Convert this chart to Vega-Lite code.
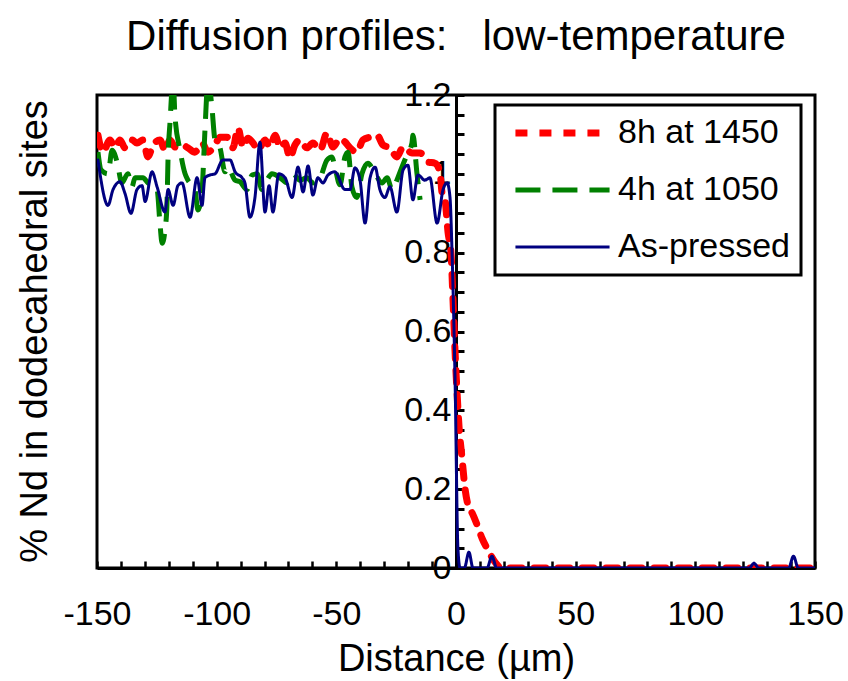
{
  "$schema": "https://vega.github.io/schema/vega-lite/v6.json",
  "width": 718,
  "height": 473,
  "autosize": "none",
  "padding": {"left": 97, "top": 95, "right": 33, "bottom": 113},
  "background": "white",
  "title": {"text": "Diffusion profiles:\u00a0\u00a0 low-temperature", "fontSize": 42, "fontWeight": "normal", "font": "Liberation Sans", "color": "black", "anchor": "middle", "frame": "group", "offset": 19},
  "data": {"values": [
    {"s":"8h at 1450","x":-149.6,"y":1.098},{"s":"8h at 1450","x":-147.5,"y":1.055},{"s":"8h at 1450","x":-144.6,"y":1.086},{"s":"8h at 1450","x":-142.5,"y":1.066},{"s":"8h at 1450","x":-140.4,"y":1.086},{"s":"8h at 1450","x":-138.3,"y":1.066},{"s":"8h at 1450","x":-135.4,"y":1.086},{"s":"8h at 1450","x":-133.3,"y":1.078},{"s":"8h at 1450","x":-130.8,"y":1.086},{"s":"8h at 1450","x":-128.7,"y":1.043},{"s":"8h at 1450","x":-126.6,"y":1.073},{"s":"8h at 1450","x":-123.7,"y":1.086},{"s":"8h at 1450","x":-121.6,"y":1.06},{"s":"8h at 1450","x":-119.5,"y":1.086},{"s":"8h at 1450","x":-117.4,"y":1.068},{"s":"8h at 1450","x":-114.5,"y":1.073},{"s":"8h at 1450","x":-112,"y":1.066},{"s":"8h at 1450","x":-109.1,"y":1.055},{"s":"8h at 1450","x":-106.1,"y":1.078},{"s":"8h at 1450","x":-103.6,"y":1.055},{"s":"8h at 1450","x":-100.7,"y":1.073},{"s":"8h at 1450","x":-98.6,"y":1.093},{"s":"8h at 1450","x":-95.7,"y":1.093},{"s":"8h at 1450","x":-93.2,"y":1.066},{"s":"8h at 1450","x":-91.1,"y":1.116},{"s":"8h at 1450","x":-89,"y":1.068},{"s":"8h at 1450","x":-86.9,"y":1.09},{"s":"8h at 1450","x":-84.8,"y":1.078},{"s":"8h at 1450","x":-82.7,"y":1.06},{"s":"8h at 1450","x":-79.8,"y":1.086},{"s":"8h at 1450","x":-77.7,"y":1.068},{"s":"8h at 1450","x":-75.6,"y":1.098},{"s":"8h at 1450","x":-73.5,"y":1.066},{"s":"8h at 1450","x":-71.4,"y":1.078},{"s":"8h at 1450","x":-69.4,"y":1.04},{"s":"8h at 1450","x":-67.3,"y":1.073},{"s":"8h at 1450","x":-65.2,"y":1.086},{"s":"8h at 1450","x":-62.3,"y":1.066},{"s":"8h at 1450","x":-59.8,"y":1.078},{"s":"8h at 1450","x":-56.8,"y":1.06},{"s":"8h at 1450","x":-53.9,"y":1.104},{"s":"8h at 1450","x":-51.4,"y":1.068},{"s":"8h at 1450","x":-48.5,"y":1.09},{"s":"8h at 1450","x":-46.4,"y":1.081},{"s":"8h at 1450","x":-44.3,"y":1.066},{"s":"8h at 1450","x":-41.4,"y":1.055},{"s":"8h at 1450","x":-38.9,"y":1.086},{"s":"8h at 1450","x":-35.9,"y":1.093},{"s":"8h at 1450","x":-33,"y":1.098},{"s":"8h at 1450","x":-30.5,"y":1.073},{"s":"8h at 1450","x":-27.6,"y":1.066},{"s":"8h at 1450","x":-24.7,"y":1.043},{"s":"8h at 1450","x":-22.1,"y":1.068},{"s":"8h at 1450","x":-18.4,"y":1.053},{"s":"8h at 1450","x":-15,"y":1.053},{"s":"8h at 1450","x":-11.7,"y":1.03},{"s":"8h at 1450","x":-8.8,"y":1.027},{"s":"8h at 1450","x":-6.7,"y":1.005},{"s":"8h at 1450","x":-5.8,"y":0.951},{"s":"8h at 1450","x":-4.6,"y":0.934},{"s":"8h at 1450","x":-3.3,"y":0.85},{"s":"8h at 1450","x":-2.1,"y":0.8},{"s":"8h at 1450","x":-1.25,"y":0.68},{"s":"8h at 1450","x":-0.4,"y":0.55},{"s":"8h at 1450","x":0.4,"y":0.45},{"s":"8h at 1450","x":1.25,"y":0.36},{"s":"8h at 1450","x":2.5,"y":0.28},{"s":"8h at 1450","x":3.8,"y":0.2},{"s":"8h at 1450","x":5,"y":0.16},{"s":"8h at 1450","x":6.7,"y":0.14},{"s":"8h at 1450","x":8.8,"y":0.11},{"s":"8h at 1450","x":10.9,"y":0.075},{"s":"8h at 1450","x":13.4,"y":0.045},{"s":"8h at 1450","x":16.3,"y":0.015},{"s":"8h at 1450","x":19.2,"y":0},{"s":"8h at 1450","x":150,"y":0},
    {"s":"4h at 1050","x":-149.6,"y":1.055},{"s":"4h at 1050","x":-148.3,"y":1.01},{"s":"4h at 1050","x":-145.4,"y":1.0},{"s":"4h at 1050","x":-143.7,"y":1.06},{"s":"4h at 1050","x":-141.6,"y":1.03},{"s":"4h at 1050","x":-139.6,"y":0.977},{"s":"4h at 1050","x":-137.1,"y":1.0},{"s":"4h at 1050","x":-135.4,"y":0.967},{"s":"4h at 1050","x":-134.1,"y":0.99},{"s":"4h at 1050","x":-130.8,"y":0.99},{"s":"4h at 1050","x":-128.7,"y":0.977},{"s":"4h at 1050","x":-124.9,"y":0.96},{"s":"4h at 1050","x":-123.7,"y":0.875},{"s":"4h at 1050","x":-122.8,"y":0.824},{"s":"4h at 1050","x":-121.6,"y":0.857},{"s":"4h at 1050","x":-120.8,"y":0.916},{"s":"4h at 1050","x":-120.3,"y":1.043},{"s":"4h at 1050","x":-119.5,"y":1.13},{"s":"4h at 1050","x":-118.2,"y":1.24},{"s":"4h at 1050","x":-117.4,"y":1.144},{"s":"4h at 1050","x":-115.3,"y":1.06},{"s":"4h at 1050","x":-113.2,"y":1.0},{"s":"4h at 1050","x":-112,"y":0.984},{"s":"4h at 1050","x":-109.1,"y":0.96},{"s":"4h at 1050","x":-107.8,"y":0.908},{"s":"4h at 1050","x":-106.1,"y":0.96},{"s":"4h at 1050","x":-104.9,"y":1.11},{"s":"4h at 1050","x":-103.6,"y":1.24},{"s":"4h at 1050","x":-102,"y":1.17},{"s":"4h at 1050","x":-100.7,"y":1.086},{"s":"4h at 1050","x":-98.6,"y":1.066},{"s":"4h at 1050","x":-96.5,"y":1.005},{"s":"4h at 1050","x":-95.3,"y":1.017},{"s":"4h at 1050","x":-92.3,"y":0.984},{"s":"4h at 1050","x":-90.3,"y":0.98},{"s":"4h at 1050","x":-87.3,"y":0.96},{"s":"4h at 1050","x":-85.2,"y":0.997},{"s":"4h at 1050","x":-83.1,"y":1.0},{"s":"4h at 1050","x":-81.1,"y":0.96},{"s":"4h at 1050","x":-79,"y":0.984},{"s":"4h at 1050","x":-76.9,"y":1.0},{"s":"4h at 1050","x":-73.5,"y":0.99},{"s":"4h at 1050","x":-70.6,"y":0.977},{"s":"4h at 1050","x":-68.1,"y":1.0},{"s":"4h at 1050","x":-65.2,"y":0.984},{"s":"4h at 1050","x":-62.3,"y":0.99},{"s":"4h at 1050","x":-59.8,"y":0.977},{"s":"4h at 1050","x":-56.8,"y":0.99},{"s":"4h at 1050","x":-53.9,"y":1.035},{"s":"4h at 1050","x":-51.8,"y":1.043},{"s":"4h at 1050","x":-50.6,"y":1.017},{"s":"4h at 1050","x":-48.5,"y":0.972},{"s":"4h at 1050","x":-46.4,"y":1.043},{"s":"4h at 1050","x":-45.1,"y":1.055},{"s":"4h at 1050","x":-43.5,"y":0.967},{"s":"4h at 1050","x":-41.4,"y":0.94},{"s":"4h at 1050","x":-39.3,"y":1.0},{"s":"4h at 1050","x":-36.8,"y":1.027},{"s":"4h at 1050","x":-33.8,"y":1.0},{"s":"4h at 1050","x":-30.9,"y":0.977},{"s":"4h at 1050","x":-28.8,"y":0.99},{"s":"4h at 1050","x":-26.7,"y":0.96},{"s":"4h at 1050","x":-24.7,"y":0.984},{"s":"4h at 1050","x":-22.6,"y":1.017},{"s":"4h at 1050","x":-20.5,"y":1.048},{"s":"4h at 1050","x":-18.4,"y":1.078},{"s":"4h at 1050","x":-18,"y":1.098},{"s":"4h at 1050","x":-16.3,"y":1.0},{"s":"4h at 1050","x":-15,"y":0.934},
    {"s":"As-pressed","x":-149.6,"y":1.035},{"s":"As-pressed","x":-145.4,"y":0.92},{"s":"As-pressed","x":-143.3,"y":0.96},{"s":"As-pressed","x":-140.4,"y":0.98},{"s":"As-pressed","x":-138.3,"y":0.95},{"s":"As-pressed","x":-135.8,"y":0.9},{"s":"As-pressed","x":-133.3,"y":0.96},{"s":"As-pressed","x":-131.2,"y":0.97},{"s":"As-pressed","x":-129.9,"y":0.93},{"s":"As-pressed","x":-127,"y":1.005},{"s":"As-pressed","x":-124.9,"y":0.967},{"s":"As-pressed","x":-121.6,"y":0.903},{"s":"As-pressed","x":-120.3,"y":0.96},{"s":"As-pressed","x":-118.2,"y":0.92},{"s":"As-pressed","x":-116.2,"y":0.97},{"s":"As-pressed","x":-114.5,"y":0.977},{"s":"As-pressed","x":-111.1,"y":0.89},{"s":"As-pressed","x":-108.2,"y":0.99},{"s":"As-pressed","x":-106.1,"y":0.92},{"s":"As-pressed","x":-104.9,"y":0.99},{"s":"As-pressed","x":-102.8,"y":0.997},{"s":"As-pressed","x":-100.7,"y":1.0},{"s":"As-pressed","x":-97.4,"y":1.035},{"s":"As-pressed","x":-94.4,"y":1.035},{"s":"As-pressed","x":-92.3,"y":1.005},{"s":"As-pressed","x":-89.4,"y":0.99},{"s":"As-pressed","x":-88.2,"y":0.977},{"s":"As-pressed","x":-86.1,"y":0.89},{"s":"As-pressed","x":-84,"y":0.94},{"s":"As-pressed","x":-81.9,"y":1.08},{"s":"As-pressed","x":-79.8,"y":0.903},{"s":"As-pressed","x":-78.1,"y":0.97},{"s":"As-pressed","x":-76.5,"y":0.903},{"s":"As-pressed","x":-74,"y":1.0},{"s":"As-pressed","x":-71.4,"y":0.99},{"s":"As-pressed","x":-68.5,"y":0.94},{"s":"As-pressed","x":-66,"y":1.017},{"s":"As-pressed","x":-63.9,"y":0.954},{"s":"As-pressed","x":-61.8,"y":1.02},{"s":"As-pressed","x":-59.8,"y":0.946},{"s":"As-pressed","x":-57.7,"y":0.99},{"s":"As-pressed","x":-55.6,"y":0.977},{"s":"As-pressed","x":-53.5,"y":0.997},{"s":"As-pressed","x":-50.6,"y":1.005},{"s":"As-pressed","x":-46.4,"y":0.96},{"s":"As-pressed","x":-44.3,"y":0.96},{"s":"As-pressed","x":-42.2,"y":1.015},{"s":"As-pressed","x":-40.1,"y":0.984},{"s":"As-pressed","x":-38,"y":0.875},{"s":"As-pressed","x":-35.9,"y":0.99},{"s":"As-pressed","x":-33.8,"y":1.017},{"s":"As-pressed","x":-31.8,"y":0.96},{"s":"As-pressed","x":-29.7,"y":0.94},{"s":"As-pressed","x":-27.6,"y":0.967},{"s":"As-pressed","x":-24.7,"y":0.903},{"s":"As-pressed","x":-22.1,"y":1.01},{"s":"As-pressed","x":-20.1,"y":1.022},{"s":"As-pressed","x":-18,"y":0.934},{"s":"As-pressed","x":-15.9,"y":0.997},{"s":"As-pressed","x":-13,"y":0.984},{"s":"As-pressed","x":-10.9,"y":0.99},{"s":"As-pressed","x":-7.9,"y":0.875},{"s":"As-pressed","x":-5.4,"y":0.96},{"s":"As-pressed","x":-3.7,"y":0.977},{"s":"As-pressed","x":-2.5,"y":0.94},{"s":"As-pressed","x":-1.7,"y":0.81},{"s":"As-pressed","x":-0.4,"y":0.48},{"s":"As-pressed","x":0.8,"y":0.05},{"s":"As-pressed","x":1.7,"y":0},{"s":"As-pressed","x":3.5,"y":0},{"s":"As-pressed","x":5.4,"y":0.04},{"s":"As-pressed","x":7.1,"y":0},{"s":"As-pressed","x":13,"y":0},{"s":"As-pressed","x":15,"y":0.03},{"s":"As-pressed","x":17,"y":0},{"s":"As-pressed","x":122.5,"y":0},{"s":"As-pressed","x":124.5,"y":0.012},{"s":"As-pressed","x":126.5,"y":0},{"s":"As-pressed","x":139,"y":0},{"s":"As-pressed","x":141,"y":0.03},{"s":"As-pressed","x":143,"y":0},{"s":"As-pressed","x":150,"y":0}
  ]},
  "encoding": {
    "color": {"field": "s", "type": "nominal", "scale": {"domain": ["8h at 1450", "4h at 1050", "As-pressed"], "range": ["#ff0000", "#008000", "#000080"]}, "legend": {"title": null}},
    "strokeDash": {"field": "s", "type": "nominal", "scale": {"domain": ["8h at 1450", "4h at 1050", "As-pressed"], "range": [[12, 12], [25, 12], [1, 0]]}, "legend": {"title": null}},
    "strokeWidth": {"field": "s", "type": "nominal", "scale": {"domain": ["8h at 1450", "4h at 1050", "As-pressed"], "range": [7, 3, 3.5]}, "legend": {"title": null}}
  },
  "layer": [
    {"transform": [{"filter": "datum.s == '8h at 1450'"}], "mark": {"type": "line", "strokeCap": "round", "clip": true, "interpolate": "monotone"},
     "encoding": {
      "x": {"field": "x", "type": "quantitative", "scale": {"domain": [-150, 150], "nice": false, "zero": false},
        "axis": {"orient": "bottom", "values": [-150,-100,-50,0,50,100,150],
          "labelExpr": "toString(datum.value)", "ticks": false, "tickSize": 0,
          "domainColor": "black", "domainWidth": 3,
          "labelFontSize": 34, "labelFont": "Liberation Sans", "labelColor": "black", "labelPadding": 29, "labelFlush": false, "labelOverlap": false, "labelBound": false,
          "title": "Distance (µm)", "titleFontSize": 38, "titleFont": "Liberation Sans", "titleFontWeight": "normal", "titleColor": "black", "titleBaseline": "alphabetic", "titleY": 102, "titleX": 359, "titleAlign": "center", "grid": false}},
      "y": {"field": "y", "type": "quantitative", "scale": {"domain": [0, 1.2], "nice": false, "zero": false},
        "axis": {"orient": "left", "offset": -359, "values": [0,0.2,0.4,0.6,0.8,1,1.2],
          "labelExpr": "toString(datum.value)", "ticks": false, "tickSize": 0,
          "domainColor": "black", "domainWidth": 3,
          "labelFontSize": 34, "labelFont": "Liberation Sans", "labelColor": "black", "labelPadding": 5, "labelFlush": false, "labelOverlap": false, "labelBound": false,
          "title": "% Nd in dodecahedral sites", "titleFontSize": 38, "titleFont": "Liberation Sans", "titleFontWeight": "normal", "titleColor": "black", "titleAngle": -90, "titleBaseline": "alphabetic", "titleAlign": "center", "titleX": -410, "titleY": 236, "grid": false}}
     }},
    {"transform": [{"filter": "datum.s == '4h at 1050'"}], "mark": {"type": "line", "strokeCap": "butt", "clip": true, "interpolate": "monotone"},
     "encoding": {
      "x": {"field": "x", "type": "quantitative",
        "axis": {"orient": "top", "offset": -473, "values": [-150,-140,-130,-120,-110,-100,-90,-80,-70,-60,-50,-40,-30,-20,-10,0,10,20,30,40,50,60,70,80,90,100,110,120,130,140,150],
          "labels": false, "domain": false, "ticks": true, "tickSize": 7, "tickWidth": 2.5, "tickColor": "black", "grid": false, "title": null}},
      "y": {"field": "y", "type": "quantitative",
        "axis": {"orient": "right", "offset": -359, "values": [0,0.05,0.1,0.15,0.2,0.25,0.3,0.35,0.4,0.45,0.5,0.55,0.6,0.65,0.7,0.75,0.8,0.85,0.9,0.95,1,1.05,1.1,1.15,1.2],
          "labels": false, "domain": false, "ticks": true, "tickSize": 8, "tickWidth": 3, "tickColor": "black", "grid": false, "title": null}}
     }},
    {"transform": [{"filter": "datum.s == 'As-pressed'"}], "mark": {"type": "line", "strokeCap": "round", "clip": true, "interpolate": "monotone"},
     "encoding": {
      "x": {"field": "x", "type": "quantitative", "axis": null},
      "y": {"field": "y", "type": "quantitative", "axis": null}
     }}
  ],
  "resolve": {"axis": {"x": "independent", "y": "independent"}},
  "config": {
    "view": {"stroke": "black", "strokeWidth": 3},
    "legend": {"orient": "none", "legendX": 398, "legendY": 10, "strokeColor": "black", "strokeWidth": 3, "padding": 11, "symbolType": "M-3.5,0H3.5", "symbolSize": 723, "symbolOffset": 39.5, "labelFontSize": 34, "labelFont": "Liberation Sans", "labelColor": "black", "labelOffset": 38.5, "labelLimit": 400, "rowPadding": 23}
  }
}
